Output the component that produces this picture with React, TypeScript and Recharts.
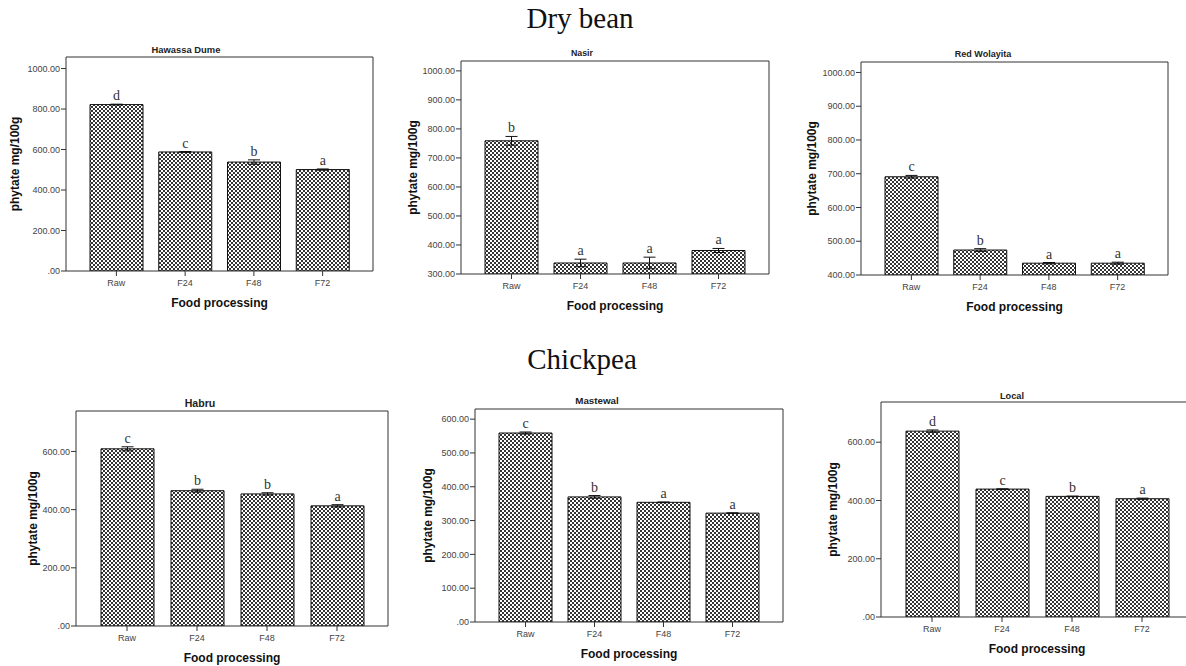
import React from 'react';
import { Bar, BarChart, CartesianGrid, ErrorBar, LabelList, XAxis, YAxis } from 'recharts';

const categories = ['Raw', 'F24', 'F48', 'F72'];

// Dry bean
const hawassaDume = [822, 588, 538, 501];
const hawassaDumeErr = [2, 2, 11, 3];
const hawassaDumeLetters = ['d', 'c', 'b', 'a'];

const nasir = [759, 338, 338, 381];
const nasirErr = [15, 13, 20, 7];
const nasirLetters = ['b', 'a', 'a', 'a'];

const redWolayita = [691, 474, 435, 435];
const redWolayitaErr = [4, 4, 2, 3];
const redWolayitaLetters = ['c', 'b', 'a', 'a'];

// Chickpea
const habru = [609, 465, 454, 413];
const habruErr = [7, 5, 4, 4];
const habruLetters = ['c', 'b', 'b', 'a'];

const mastewal = [559, 370, 354, 322];
const mastewalErr = [3, 4, 1, 1];
const mastewalLetters = ['c', 'b', 'a', 'a'];

const local = [638, 439, 414, 406];
const localErr = [4, 1, 1, 2];
const localLetters = ['d', 'c', 'b', 'a'];

const ticks0to1000 = [0, 200, 400, 600, 800, 1000];
const ticks300to1000 = [300, 400, 500, 600, 700, 800, 900, 1000];
const ticks400to1000 = [400, 500, 600, 700, 800, 900, 1000];
const ticks0to600 = [0, 200, 400, 600];
const ticks0to600by100 = [0, 100, 200, 300, 400, 500, 600];

const SANS = '"Liberation Sans", Arial, sans-serif';
const SERIF = '"Liberation Serif", "Times New Roman", serif';
const ML = 60;
const MT = 12;
const MR = 6;
const XH = 45;
const LINE = '#333';

const panels = [
  {
    id: 'hd', title: 'Hawassa Dume', values: hawassaDume, errs: hawassaDumeErr, letters: hawassaDumeLetters,
    domain: [0, 1057], ticks: ticks0to1000, box: { l: 66, t: 57, r: 373, b: 271 },
    titleX: 186, titleY: 53, titleSize: 9.4, ylabelOffset: 9,
  },
  {
    id: 'na', title: 'Nasir', values: nasir, errs: nasirErr, letters: nasirLetters,
    domain: [300, 1034], ticks: ticks300to1000, box: { l: 461, t: 61, r: 769, b: 274 },
    titleX: 582, titleY: 56, titleSize: 8.8, ylabelOffset: 12,
  },
  {
    id: 'rw', title: 'Red Wolayita', values: redWolayita, errs: redWolayitaErr, letters: redWolayitaLetters,
    domain: [400, 1031], ticks: ticks400to1000, box: { l: 861, t: 62, r: 1168, b: 275 },
    titleX: 983, titleY: 57, titleSize: 9, ylabelOffset: 11,
  },
  {
    id: 'hb', title: 'Habru', values: habru, errs: habruErr, letters: habruLetters,
    domain: [0, 739], ticks: ticks0to600, box: { l: 76, t: 411, r: 388, b: 626 },
    titleX: 200, titleY: 407, titleSize: 10.6, ylabelOffset: 17,
  },
  {
    id: 'ms', title: 'Mastewal', values: mastewal, errs: mastewalErr, letters: mastewalLetters,
    domain: [0, 630], ticks: ticks0to600by100, box: { l: 475, t: 409, r: 783, b: 622 },
    titleX: 597, titleY: 404, titleSize: 9.8, ylabelOffset: 13,
  },
  {
    id: 'lc', title: 'Local', values: local, errs: localErr, letters: localLetters,
    domain: [0, 738], ticks: ticks0to600, box: { l: 881, t: 402, r: 1193, b: 617 },
    titleX: 1012, titleY: 398.5, titleSize: 9.2, ylabelOffset: 12,
  },
];

const fmt = (v: number) => (v === 0 ? '.00' : v.toFixed(2));

function Panel({ panel }: { panel: (typeof panels)[number] }) {
  const { id, values, errs, letters, domain, ticks, box, ylabelOffset } = panel;
  const data = categories.map((cat, i) => ({ cat, value: values[i], err: errs[i], letter: letters[i] }));
  const w = box.r - box.l;
  const h = box.b - box.t;

  const renderLetter = (props: any) => {
    const { x, y, width, height, index } = props;
    const row = data[index];
    const errPx = (row.err * Math.abs(height)) / (row.value - domain[0]);
    return (
      <text
        x={x + width / 2}
        y={y - errPx - 4}
        textAnchor="middle"
        fontFamily={SERIF}
        fontSize={14}
        fill="#333"
      >
        {row.letter}
      </text>
    );
  };

  return (
    <div style={{ position: 'absolute', left: box.l - ML, top: box.t - MT }}>
      <BarChart
        width={ML + w + MR}
        height={MT + h + XH}
        data={data}
        margin={{ top: MT, right: MR, bottom: 0, left: 0 }}
      >
        <defs>
          <pattern id={`hatch-${id}`} patternUnits="userSpaceOnUse" width={4} height={4}>
            <rect width={4} height={4} fill="#fff" />
            <path d="M0,0 L4,4 M4,0 L0,4" stroke="#111" strokeWidth={0.85} />
          </pattern>
        </defs>
        {/* plot frame: lines along the top and right edges of the plot area */}
        <CartesianGrid
          stroke={LINE}
          strokeOpacity={1}
          horizontalPoints={[MT]}
          verticalPoints={[ML + w]}
        />
        <XAxis
          dataKey="cat"
          interval={0}
          height={XH}
          padding={{ left: 16, right: 16 }}
          tickSize={5}
          tickMargin={4}
          axisLine={{ stroke: LINE }}
          tickLine={{ stroke: LINE }}
          tick={{ fontSize: 9, fill: '#444', fontFamily: SANS }}
          label={{
            value: 'Food processing',
            position: 'insideBottom',
            offset: 9,
            style: { fontSize: 12, fontWeight: 'bold', fill: '#111', fontFamily: SANS },
          }}
        />
        <YAxis
          type="number"
          domain={domain}
          ticks={ticks}
          interval={0}
          allowDataOverflow
          width={ML}
          tickSize={5}
          tickMargin={1}
          tickFormatter={fmt}
          axisLine={{ stroke: LINE }}
          tickLine={{ stroke: LINE }}
          tick={{ fontSize: 9, fill: '#444', fontFamily: SANS }}
          label={{
            value: 'phytate mg/100g',
            angle: -90,
            position: 'insideLeft',
            offset: ylabelOffset,
            style: { textAnchor: 'middle', fontSize: 12, fontWeight: 'bold', fill: '#111', fontFamily: SANS },
          }}
        />
        <Bar
          dataKey="value"
          fill={`url(#hatch-${id})`}
          stroke="#111"
          strokeWidth={1}
          barSize={53}
          isAnimationActive={false}
        >
          <ErrorBar dataKey="err" width={6} stroke="#111" strokeWidth={1} direction="y" />
          <LabelList dataKey="letter" content={renderLetter} />
        </Bar>
      </BarChart>
    </div>
  );
}

export default function App() {
  return (
    <div
      style={{
        position: 'absolute',
        left: 0,
        top: 0,
        width: 1186,
        height: 666,
        overflow: 'hidden',
        background: '#fff',
      }}
    >
      {panels.map((p) => (
        <Panel key={p.id} panel={p} />
      ))}
      <svg
        width={1186}
        height={666}
        style={{ position: 'absolute', left: 0, top: 0, pointerEvents: 'none' }}
      >
        <text x={580} y={28} textAnchor="middle" fontFamily={SERIF} fontSize={29} fill="#111">
          Dry bean
        </text>
        <text x={582} y={369} textAnchor="middle" fontFamily={SERIF} fontSize={29} fill="#111">
          Chickpea
        </text>
        {panels.map((p) => (
          <text
            key={p.id}
            x={p.titleX}
            y={p.titleY}
            textAnchor="middle"
            fontFamily={SANS}
            fontWeight="bold"
            fontSize={p.titleSize}
            fill="#222"
          >
            {p.title}
          </text>
        ))}
      </svg>
    </div>
  );
}
